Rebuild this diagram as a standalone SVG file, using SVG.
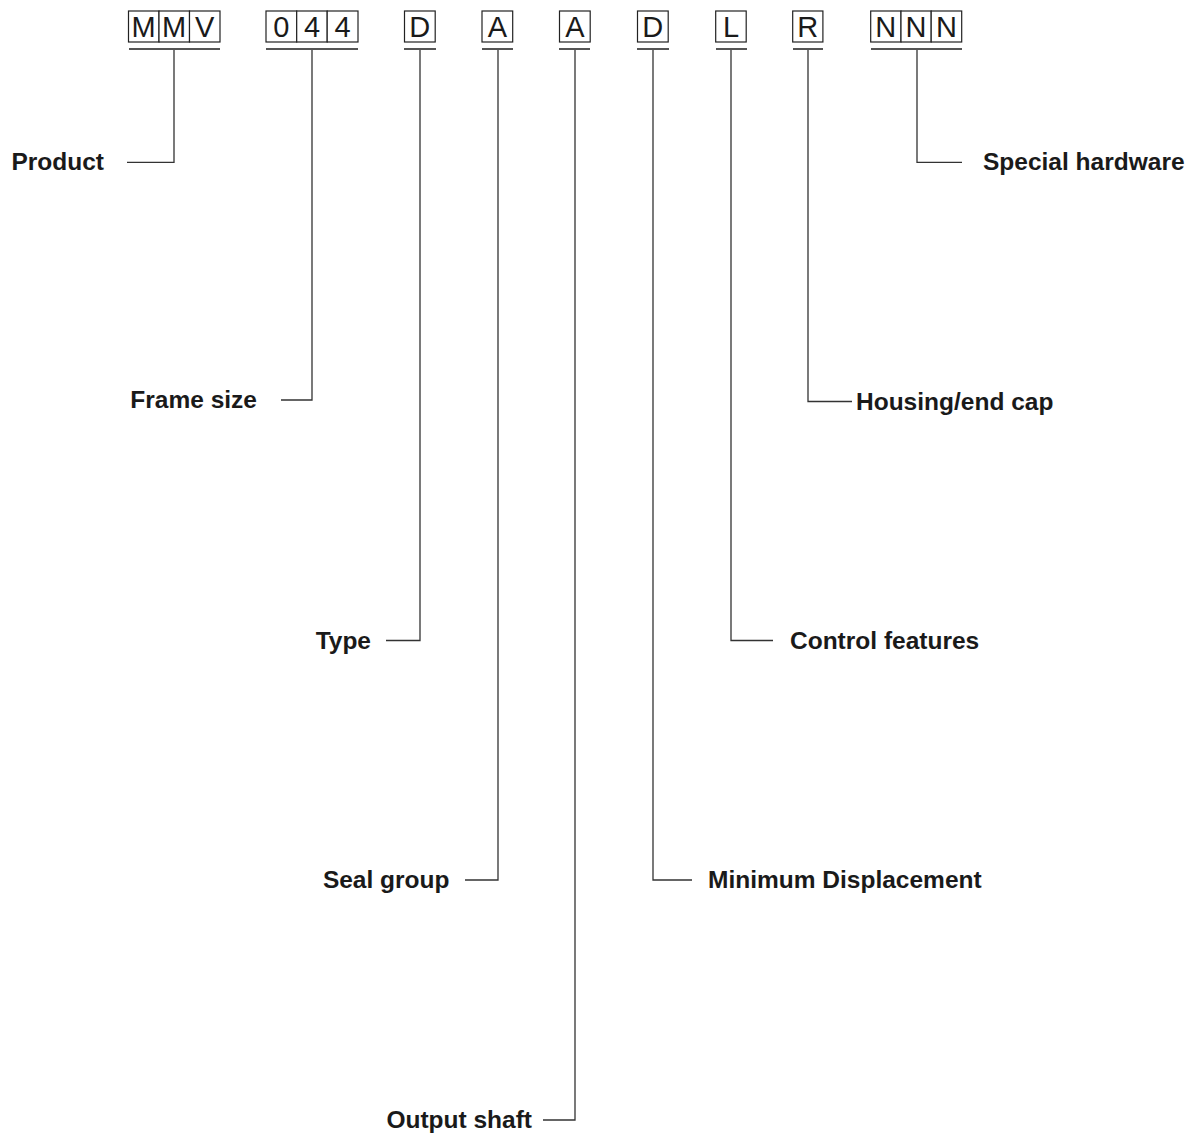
<svg xmlns="http://www.w3.org/2000/svg" width="1200" height="1136" viewBox="0 0 1200 1136">
<style>
.cell{fill:#fff;stroke:#222;stroke-width:1.2}
.ch{font-family:"Liberation Sans",Arial,sans-serif;font-size:29px;fill:#1a1a1a;text-anchor:middle}
.ul{stroke:#555;stroke-width:2;fill:none}
.ln{stroke:#333;stroke-width:1.3;fill:none}
.lbl{font-family:"Liberation Sans",Arial,sans-serif;font-size:24.5px;font-weight:bold;fill:#1a1a1a}
.l{text-anchor:end}
</style>
<rect width="1200" height="1136" fill="#fff"/>
<g id="code-MMV">
<rect class="cell" x="128.5" y="11" width="30.5" height="31"/><rect class="cell" x="159" y="11" width="30.5" height="31"/><rect class="cell" x="189.5" y="11" width="30.5" height="31"/>
<text class="ch" x="143.7" y="37">M</text><text class="ch" x="174.2" y="37">M</text><text class="ch" x="204.7" y="37">V</text>
<line class="ul" x1="129" y1="49" x2="220" y2="49"/>
</g>
<g id="code-044">
<rect class="cell" x="266" y="11" width="30.7" height="31"/><rect class="cell" x="296.7" y="11" width="30.5" height="31"/><rect class="cell" x="327.2" y="11" width="30.8" height="31"/>
<text class="ch" x="281.3" y="37">0</text><text class="ch" x="312" y="37">4</text><text class="ch" x="342.6" y="37">4</text>
<line class="ul" x1="266" y1="49" x2="358" y2="49"/>
</g>
<g id="code-D1">
<rect class="cell" x="404.5" y="11" width="30.7" height="31"/><text class="ch" x="419.8" y="37">D</text>
<line class="ul" x1="404" y1="49" x2="436" y2="49"/>
</g>
<g id="code-A1">
<rect class="cell" x="482" y="11" width="30.7" height="31"/><text class="ch" x="497.3" y="37">A</text>
<line class="ul" x1="482" y1="49" x2="513" y2="49"/>
</g>
<g id="code-A2">
<rect class="cell" x="559.5" y="11" width="30.7" height="31"/><text class="ch" x="574.8" y="37">A</text>
<line class="ul" x1="559" y1="49" x2="590" y2="49"/>
</g>
<g id="code-D2">
<rect class="cell" x="637.5" y="11" width="30.7" height="31"/><text class="ch" x="652.8" y="37">D</text>
<line class="ul" x1="637" y1="49" x2="669" y2="49"/>
</g>
<g id="code-L">
<rect class="cell" x="715.7" y="11" width="30.5" height="31"/><text class="ch" x="731" y="37">L</text>
<line class="ul" x1="716" y1="49" x2="747" y2="49"/>
</g>
<g id="code-R">
<rect class="cell" x="792.7" y="11" width="30.2" height="31"/><text class="ch" x="807.8" y="37">R</text>
<line class="ul" x1="793" y1="49" x2="823" y2="49"/>
</g>
<g id="code-NNN">
<rect class="cell" x="870.7" y="11" width="30.3" height="31"/><rect class="cell" x="901" y="11" width="30.2" height="31"/><rect class="cell" x="931.2" y="11" width="30.5" height="31"/>
<text class="ch" x="885.8" y="37">N</text><text class="ch" x="916.1" y="37">N</text><text class="ch" x="946.4" y="37">N</text>
<line class="ul" x1="871" y1="49" x2="962" y2="49"/>
</g>
<g id="connectors">
<polyline class="ln" points="174,50 174,162.3 127,162.3"/>
<polyline class="ln" points="312,50 312,400 281,400"/>
<polyline class="ln" points="420,50 420,640.5 386,640.5"/>
<polyline class="ln" points="498,50 498,880 465,880"/>
<polyline class="ln" points="575,50 575,1120 543,1120"/>
<polyline class="ln" points="653,50 653,880 692,880"/>
<polyline class="ln" points="731,50 731,640.5 773,640.5"/>
<polyline class="ln" points="808,50 808,401.5 852,401.5"/>
<polyline class="ln" points="917,50 917,162.3 962,162.3"/>
</g>
<g id="label-product"><text class="lbl l" x="104" y="170">Product</text></g>
<g id="label-frame"><text class="lbl l" x="257" y="408">Frame size</text></g>
<g id="label-type"><text class="lbl l" x="371" y="648.5">Type</text></g>
<g id="label-seal"><text class="lbl l" x="449.5" y="888">Seal group</text></g>
<g id="label-output"><text class="lbl l" x="532" y="1128">Output shaft</text></g>
<g id="label-mindisp"><text class="lbl" x="708" y="888">Minimum Displacement</text></g>
<g id="label-control"><text class="lbl" x="790" y="648.5">Control features</text></g>
<g id="label-housing"><text class="lbl" x="856" y="409.5">Housing/end cap</text></g>
<g id="label-special"><text class="lbl" x="983" y="170">Special hardware</text></g>
</svg>
